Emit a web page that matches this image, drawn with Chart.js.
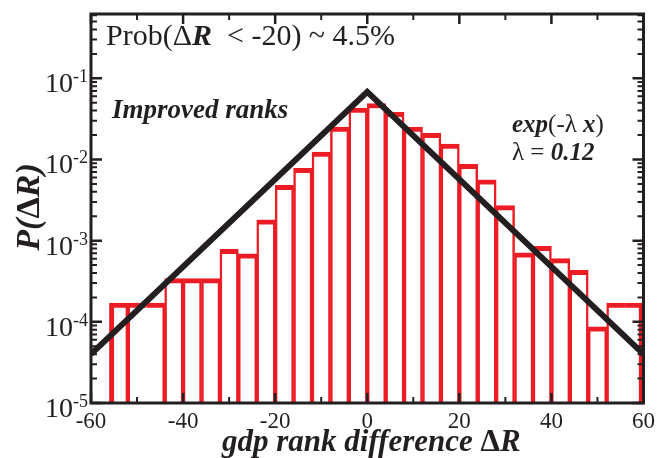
<!DOCTYPE html>
<html><head><meta charset="utf-8">
<script src="https://cdn.jsdelivr.net/npm/chart.js@4.4.0/dist/chart.umd.min.js"></script>
<style>html,body{margin:0;padding:0;background:#fff;}</style>
</head><body>
<canvas id="c" width="660" height="458"></canvas>
<script>
// ---- data ----
const binCenters = [-54,-50,-46,-42,-38,-34,-30,-26,-22,-18,-14,-10,-6,-2,2,6,10,14,18,22,26,30,34,38,42,46,50,54,58];
const probabilities = [1.7e-4,1.7e-4,1.7e-4,3.4e-4,3.4e-4,3.4e-4,7.8e-4,6.9e-4,1.8e-3,4.8e-3,7.8e-3,1.23e-2,2.5e-2,4.3e-2,4.9e-2,3.8e-2,2.5e-2,2.1e-2,1.55e-2,8.7e-3,5.6e-3,2.7e-3,7.1e-4,8.5e-4,6.0e-4,4.3e-4,8.7e-5,1.7e-4,1.7e-4];
const fitX = [-60, 0, 60];
const fitP = [4.0e-5, 0.068, 4.0e-5];
const xTickLabels = [-60,-40,-20,0,20,40,60];
const yTickExponents = [-5,-4,-3,-2,-1];
const mergedEdges = [-48, 56]; // bin edges drawn without a divider

// ---- style constants ----
const RED = '#ec1c24', INK = '#231f20';
const SERIF = '"Liberation Serif", "Times New Roman", serif';
const Y_MIN = 1e-5, Y_MAX = 0.62;

const barData = binCenters.map((c, i) => ({x: c, y: probabilities[i]}));
const fitData = fitX.map((x, i) => ({x, y: fitP[i]}));

function runs(ctx, x, y, parts, align) {
  let total = 0;
  parts.forEach(p => { ctx.font = p.f; total += ctx.measureText(p.t).width; });
  let cx = align === 'center' ? x - total / 2 : x;
  ctx.textAlign = 'left'; ctx.textBaseline = 'alphabetic';
  parts.forEach(p => { ctx.font = p.f; ctx.fillText(p.t, cx, y); cx += ctx.measureText(p.t).width; });
}

const framePlugin = {
  id: 'frame',
  afterDatasetsDraw(chart) {
    const {ctx, chartArea: a, scales: {x, y}} = chart;
    ctx.save();
    ctx.strokeStyle = INK;
    for (let v = -60; v <= 60; v += 10) {
      const px = x.getPixelForValue(v);
      const major = v % 20 === 0;
      const len = major ? 10 : 6;
      ctx.lineWidth = major ? 2.5 : 2;
      ctx.beginPath();
      ctx.moveTo(px, a.bottom); ctx.lineTo(px, a.bottom - len);
      ctx.moveTo(px, a.top); ctx.lineTo(px, a.top + len);
      ctx.stroke();
    }
    for (let e = -5; e <= 0; e++) {
      for (let m = 1; m <= 9; m++) {
        const v = m * Math.pow(10, e);
        if (v < Y_MIN * 0.999 || v > Y_MAX) continue;
        const py = y.getPixelForValue(v);
        const major = m === 1;
        const len = major ? 11 : 6;
        ctx.lineWidth = major ? 2.5 : 2;
        ctx.beginPath();
        ctx.moveTo(a.left, py); ctx.lineTo(a.left + len, py);
        ctx.moveTo(a.right, py); ctx.lineTo(a.right - len, py);
        ctx.stroke();
      }
    }
    ctx.lineWidth = 3;
    ctx.strokeRect(a.left, a.top, a.right - a.left, a.bottom - a.top);
    ctx.restore();
  },
  afterDraw(chart) {
    const {ctx, chartArea: a, scales: {y}} = chart;
    ctx.save();
    ctx.fillStyle = INK;
    yTickExponents.forEach(e => {
      const py = y.getPixelForValue(Math.pow(10, e));
      const sup = String(e);
      ctx.font = '18px ' + SERIF;
      const ws = ctx.measureText(sup).width;
      ctx.textAlign = 'right'; ctx.textBaseline = 'alphabetic';
      const xr = a.left - 3;
      ctx.fillText(sup, xr, py + 4);
      ctx.font = '28px ' + SERIF;
      ctx.fillText('10', xr - ws, py + 14);
    });
    const reg = s => s + 'px ' + SERIF;
    const bi = s => 'italic bold ' + s + 'px ' + SERIF;
    const bold = s => 'bold ' + s + 'px ' + SERIF;
    runs(ctx, a.left + 15, a.top + 31, [
      {t: 'Prob(', f: reg(30)}, {t: 'Δ', f: reg(30)}, {t: 'R', f: bi(30)},
      {t: '  < -20) ~ 4.5%', f: reg(30)}
    ]);
    runs(ctx, a.left + 21, a.top + 104, [{t: 'Improved ranks', f: bi(27)}]);
    runs(ctx, a.left + 421, a.top + 118, [
      {t: 'exp', f: bi(25)}, {t: '(-λ ', f: reg(25)}, {t: 'x', f: bi(25)}, {t: ')', f: reg(25)}
    ]);
    runs(ctx, a.left + 421, a.top + 146, [
      {t: 'λ = ', f: reg(25)}, {t: '0.12', f: bi(25)}
    ]);
    runs(ctx, (a.left + a.right) / 2 + 4, 451, [
      {t: 'gdp rank difference ', f: bi(31)}, {t: 'Δ', f: bold(31)}, {t: 'R', f: bi(31)}
    ], 'center');
    ctx.save();
    ctx.translate(39, 207);
    ctx.rotate(-Math.PI / 2);
    runs(ctx, 0, 0, [
      {t: 'P', f: bi(34)}, {t: '(', f: bi(34)}, {t: 'Δ', f: bold(34)}, {t: 'R', f: bi(34)}, {t: ')', f: bi(34)}
    ], 'center');
    ctx.restore();
    ctx.restore();
  }
};

new Chart(document.getElementById('c'), {
  type: 'bar',
  data: {
    datasets: [
      {
        type: 'line', data: fitData, borderColor: INK, borderWidth: 6,
        pointRadius: 0, tension: 0, order: 0, fill: false
      },
      {
        type: 'bar', data: barData, backgroundColor: '#ffffff', borderColor: RED,
        borderSkipped: false, barPercentage: 1, categoryPercentage: 1, order: 1,
        borderWidth: (ctx) => {
          const i = ctx.dataIndex, n = binCenters.length;
          const c = binCenters[i];
          const half = 2;
          const left = i === 0 ? 5 : (mergedEdges.includes(c - half) ? 0 : 2.5);
          const right = i === n - 1 ? 5 : (mergedEdges.includes(c + half) ? 0 : 2.5);
          return {top: 5, left, right, bottom: 0};
        }
      }
    ]
  },
  options: {
    responsive: false, animation: false,
    layout: {padding: {left: 0, right: 13, top: 14, bottom: 0}},
    plugins: {legend: {display: false}, tooltip: {enabled: false}},
    scales: {
      x: {
        type: 'linear', min: -60, max: 60, offset: false,
        grid: {display: false, drawTicks: false}, border: {display: false},
        ticks: {
          stepSize: 20, padding: 5, color: INK,
          font: {family: SERIF, size: 23},
          callback: v => xTickLabels.includes(v) ? String(v) : null
        },
        afterFit: s => { s.height = 55; }
      },
      y: {
        type: 'logarithmic', min: Y_MIN, max: Y_MAX, bounds: 'data',
        grid: {display: false}, border: {display: false},
        ticks: {display: false},
        afterFit: s => { s.width = 91; }
      }
    }
  },
  plugins: [framePlugin]
});
</script>
</body></html>
